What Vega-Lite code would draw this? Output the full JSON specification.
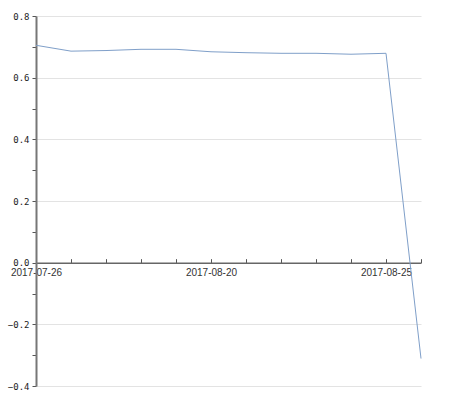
{
  "$schema": "https://vega.github.io/schema/vega-lite/v6.json",
  "width": 385,
  "height": 370,
  "padding": {"left": 36, "top": 16, "right": 53, "bottom": 28},
  "autosize": {"type": "none"},
  "background": "white",
  "config": {"view": {"stroke": null}},
  "data": {
    "values": [
      {"i": 0, "v": 0.705},
      {"i": 1, "v": 0.686},
      {"i": 2, "v": 0.688},
      {"i": 3, "v": 0.692},
      {"i": 4, "v": 0.692},
      {"i": 5, "v": 0.684},
      {"i": 6, "v": 0.681},
      {"i": 7, "v": 0.679},
      {"i": 8, "v": 0.679},
      {"i": 9, "v": 0.676},
      {"i": 10, "v": 0.679},
      {"i": 11, "v": -0.311}
    ]
  },
  "mark": {"type": "line", "color": "#7f9fc9", "strokeWidth": 1},
  "encoding": {
    "x": {
      "field": "i",
      "type": "quantitative",
      "scale": {"domain": [0, 11], "nice": false, "zero": false},
      "axis": {
        "title": null,
        "values": [0,1,2,3,4,5,6,7,8,9,10,11],
        "labelExpr": "datum.value == 0 ? '2017-07-26' : datum.value == 5 ? '2017-08-20' : datum.value == 10 ? '2017-08-25' : ''",
        "offset": -123.33,
        "grid": false,
        "domainColor": "#666666",
        "domainWidth": 1.5,
        "tickColor": "#555555",
        "tickSize": -4,
        "tickWidth": 1,
        "labelPadding": 9,
        "labelFont": "Liberation Sans",
        "labelFontSize": 10,
        "labelColor": "#333333",
        "labelFlush": false,
        "labelOverlap": false
      }
    },
    "y": {
      "field": "v",
      "type": "quantitative",
      "scale": {"domain": [-0.4, 0.8], "nice": false},
      "axis": {
        "title": null,
        "values": [-0.4,-0.3,-0.2,-0.1,0,0.1,0.2,0.3,0.4,0.5,0.6,0.7,0.8],
        "labelExpr": "abs(round(datum.value*10)) % 2 == 0 ? format(datum.value, '.1f') : ''",
        "grid": true,
        "gridColor": "#e3e3e3",
        "gridWidth": 1,
        "gridOpacity": {"condition": {"test": "abs(round(datum.value*10)) % 2 == 0 && datum.value != 0", "value": 1}, "value": 0},
        "domainColor": "#777777",
        "domainWidth": 2,
        "tickColor": "#555555",
        "tickSize": 4,
        "labelPadding": 3,
        "labelFont": "DejaVu Sans Mono",
        "labelFontSize": 9,
        "labelColor": "#222222",
        "labelFlush": false,
        "labelOverlap": false
      }
    }
  }
}
